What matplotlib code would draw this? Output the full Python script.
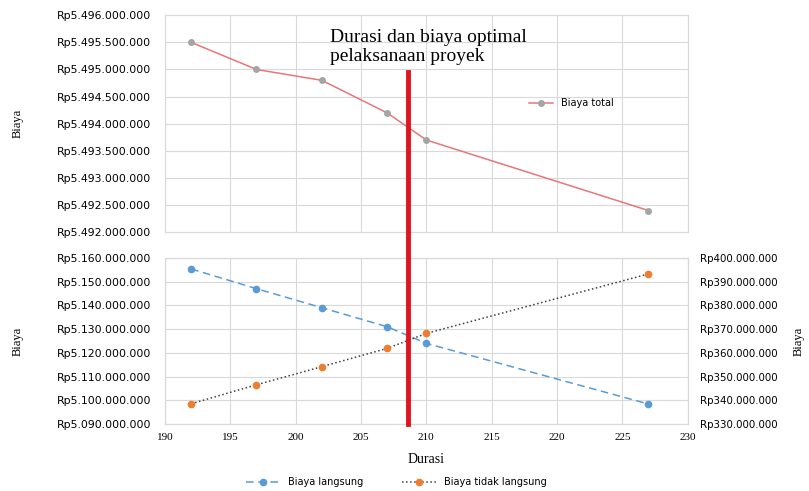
import numpy as np
import matplotlib.pyplot as plt
from matplotlib.lines import Line2D
from matplotlib.ticker import FuncFormatter
import matplotlib.transforms as mtrans

durasi = [192, 197, 202, 207, 210, 227]
biaya_total = [5495.5e6, 5495.0e6, 5494.8e6, 5494.2e6, 5493.7e6, 5492.4e6]
biaya_langsung = [5155.3e6, 5147.0e6, 5139.0e6, 5131.0e6, 5124.0e6, 5098.5e6]
biaya_tidak_langsung = [338.6e6, 346.6e6, 354.2e6, 361.9e6, 368.2e6, 393.2e6]
durasi_optimal = 208.6

x_ticks = [190, 195, 200, 205, 210, 215, 220, 225, 230]
top_ticks = np.arange(5492e6, 5496.1e6, 0.5e6)
left_ticks = np.arange(5090e6, 5160.1e6, 10e6)
right_ticks = np.arange(330e6, 400.1e6, 10e6)

serif = 'Liberation Serif'
grid_c = '#d9d9d9'


def rupiah(v, pos=None):
    s = '{:,.0f}'.format(v).replace(',', '.')
    return 'Rp' + s


fig = plt.figure(figsize=(8.09, 4.91), dpi=100)
ax1 = fig.add_axes([0.204, 0.527, 0.646, 0.442])
ax2 = fig.add_axes([0.204, 0.136, 0.646, 0.339])
ax3 = ax2.twinx()

# top chart: biaya total
ax1.plot(durasi, biaya_total, color='#e8767a', lw=1.1, marker='o', ms=4,
         mfc='#a5a5a5', mec='#a5a5a5', label='Biaya total')
ax1.set_xlim(190, 230)
ax1.set_ylim(5492e6, 5496e6)
ax1.set_xticks(x_ticks)
ax1.set_xticklabels([])
ax1.tick_params(axis='x', length=0)
ax1.set_yticks(top_ticks)
ax1.yaxis.set_major_formatter(FuncFormatter(rupiah))
ax1.tick_params(axis='y', length=0, labelsize=7.8, pad=10)
ax1.grid(True, color=grid_c, lw=0.8)
ax1.set_ylabel('Biaya', family=serif, fontsize=9)
ax1.yaxis.set_label_coords(-0.27, 0.5)
ax1.legend(loc='center left', bbox_to_anchor=(0.68, 0.594), frameon=False,
           fontsize=7, handlelength=2.5)

# bottom chart
ax2.plot(durasi, biaya_langsung, color='#5b9bd5', lw=1.1, ls=(0, (5, 3)),
         marker='o', ms=4.5, label='Biaya langsung')
ax3.plot(durasi, biaya_tidak_langsung, color='#404040', lw=1.1, ls=':',
         marker='o', ms=4.5, mfc='#ed7d31', mec='#ed7d31',
         label='Biaya tidak langsung')
ax2.set_xlim(190, 230)
ax2.set_xticks(x_ticks)
ax2.set_ylim(5090e6, 5160e6)
ax2.set_yticks(left_ticks)
ax3.set_ylim(330e6, 400e6)
ax3.set_yticks(right_ticks)
ax2.yaxis.set_major_formatter(FuncFormatter(rupiah))
ax3.yaxis.set_major_formatter(FuncFormatter(rupiah))
ax2.tick_params(axis='y', length=0, labelsize=7.8, pad=10)
ax3.tick_params(axis='y', length=0, labelsize=7.4, pad=9)
ax2.tick_params(axis='x', length=0, labelsize=8, pad=6)
for lab in ax2.get_xticklabels():
    lab.set_family(serif)
ax2.grid(True, color=grid_c, lw=0.8)
ax2.set_ylabel('Biaya', family=serif, fontsize=9)
ax2.yaxis.set_label_coords(-0.27, 0.5)
ax3.set_ylabel('Biaya', family=serif, fontsize=9)
ax3.yaxis.set_label_coords(1.2, 0.5)
ax2.set_xlabel('Durasi', family=serif, fontsize=10, labelpad=8)

for ax in (ax1, ax2, ax3):
    for sp in ax.spines.values():
        sp.set_color(grid_c)

h1, l1 = ax2.get_legend_handles_labels()
h2, l2 = ax3.get_legend_handles_labels()
fig.legend(h1 + h2, l1 + l2, loc='center', bbox_to_anchor=(0.49, 0.018),
           ncol=2, frameon=False, fontsize=7, handlelength=3.5,
           columnspacing=4)

# optimal duration marker
tr = mtrans.blended_transform_factory(ax2.transData, fig.transFigure)
fig.add_artist(Line2D([durasi_optimal, durasi_optimal], [0.136, 0.853],
                      transform=tr, color='#e0141e', lw=3.5, zorder=10))
fig.text(0.408, 0.94, 'Durasi dan biaya optimal\npelaksanaan proyek',
         family=serif, fontsize=14, va='top', ha='left', linespacing=1.1)

fig.savefig('out.png', dpi=100)
